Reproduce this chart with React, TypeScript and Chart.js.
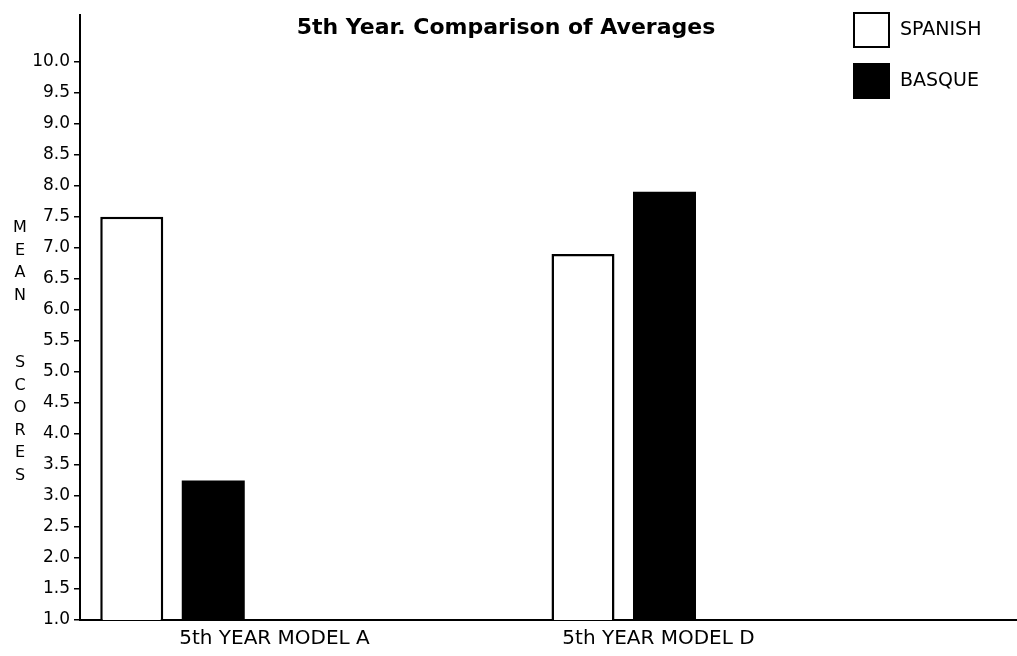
import React, { useEffect, useRef } from 'react';
import { Chart, registerables } from 'chart.js';

Chart.register(...registerables);

// ---- data ----
const TITLE = '5th Year. Comparison of Averages';
const Y_TITLE_LETTERS = ['M', 'E', 'A', 'N', '', '', 'S', 'C', 'O', 'R', 'E', 'S'];
const CATEGORIES = ['5th YEAR MODEL A', '5th YEAR MODEL D'];
const GROUP_X = [1, 2];
const LABEL_X = [1.226, 2.077];
const SERIES_NAMES = ['SPANISH', 'BASQUE'];
const SPANISH = [7.5, 6.9];
const BASQUE = [3.25, 7.9];
const Y_MIN = 1;
const Y_MAX_AXIS = 10.75;
const Y_MAX_TICK = 10;
const Y_STEP = 0.5;

const FONT = '"DejaVu Sans", sans-serif';

const overlayPlugin = {
  id: 'overlay',
  afterDraw(chart: any) {
    const ctx = chart.ctx as CanvasRenderingContext2D;
    ctx.save();
    ctx.fillStyle = '#000';
    // title
    ctx.font = `bold 22px ${FONT}`;
    ctx.textAlign = 'center';
    ctx.textBaseline = 'middle';
    ctx.fillText(TITLE, 506, 28);
    // stacked vertical axis title
    ctx.font = `16px ${FONT}`;
    Y_TITLE_LETTERS.forEach((ch, i) => {
      if (ch) ctx.fillText(ch, 20, 228 + i * 22.5);
    });
    // legend
    chart.data.datasets.forEach((ds: any, i: number) => {
      const y = 12 + i * 51;
      ctx.fillStyle = ds.backgroundColor;
      ctx.fillRect(853, y, 37, 36);
      ctx.lineWidth = 2;
      ctx.strokeStyle = '#000';
      ctx.strokeRect(854, y + 1, 35, 34);
      ctx.fillStyle = '#000';
      ctx.textAlign = 'left';
      ctx.font = `19px ${FONT}`;
      ctx.fillText(ds.label, 900, y + 18);
    });
    ctx.restore();
  },
};

export default function App() {
  const ref = useRef<HTMLCanvasElement | null>(null);

  useEffect(() => {
    if (!ref.current) return;
    const chart = new Chart(ref.current, {
      type: 'bar',
      data: {
        datasets: [
          {
            label: SERIES_NAMES[0],
            data: GROUP_X.map((x, i) => ({ x, y: SPANISH[i] })),
            backgroundColor: '#ffffff',
            borderColor: '#000000',
            borderWidth: 2.5,
            borderSkipped: 'start',
            categoryPercentage: 0.4245,
            barPercentage: 0.773,
          },
          {
            label: SERIES_NAMES[1],
            data: GROUP_X.map((x, i) => ({ x, y: BASQUE[i] })),
            backgroundColor: '#000000',
            borderColor: '#000000',
            borderWidth: 0,
            categoryPercentage: 0.4245,
            barPercentage: 0.773,
          },
        ],
      } as any,
      options: {
        responsive: false,
        animation: false,
        layout: { padding: { top: 15, right: 0, bottom: 0, left: 0 } },
        plugins: {
          legend: { display: false },
          title: { display: false },
          tooltip: { enabled: false },
        },
        scales: {
          x: {
            type: 'linear',
            offset: false,
            min: 0.795,
            max: 2.8715,
            grid: { display: false, drawTicks: false, offset: false },
            border: { display: true, color: '#000', width: 2 },
            afterBuildTicks: (s: any) => {
              s.ticks = LABEL_X.map((v) => ({ value: v }));
            },
            afterFit: (s: any) => {
              s.height = 36;
            },
            ticks: {
              autoSkip: false,
              maxRotation: 0,
              padding: 7,
              color: '#000',
              font: { family: FONT, size: 20 },
              callback: (_v: any, i: number) => CATEGORIES[i],
            },
          },
          y: {
            type: 'linear',
            min: Y_MIN,
            max: Y_MAX_AXIS,
            grid: {
              drawOnChartArea: false,
              drawTicks: true,
              tickLength: 6,
              color: '#000',
              lineWidth: 1.5,
            },
            border: { display: true, color: '#000', width: 2 },
            afterBuildTicks: (s: any) => {
              s.ticks = s.ticks.filter((t: any) => t.value <= Y_MAX_TICK + 1e-9);
            },
            afterFit: (s: any) => {
              s.width = 80;
            },
            ticks: {
              stepSize: Y_STEP,
              padding: 4,
              color: '#000',
              font: { family: FONT, size: 17 },
              callback: (v: any) => Number(v).toFixed(1),
            },
          },
        },
      } as any,
      plugins: [overlayPlugin],
    });
    return () => chart.destroy();
  }, []);

  return (
    <div style={{ position: 'fixed', left: 0, top: 0, width: 1017, height: 656, background: '#fff' }}>
      <canvas ref={ref} width={1017} height={656} style={{ display: 'block' }} />
    </div>
  );
}
